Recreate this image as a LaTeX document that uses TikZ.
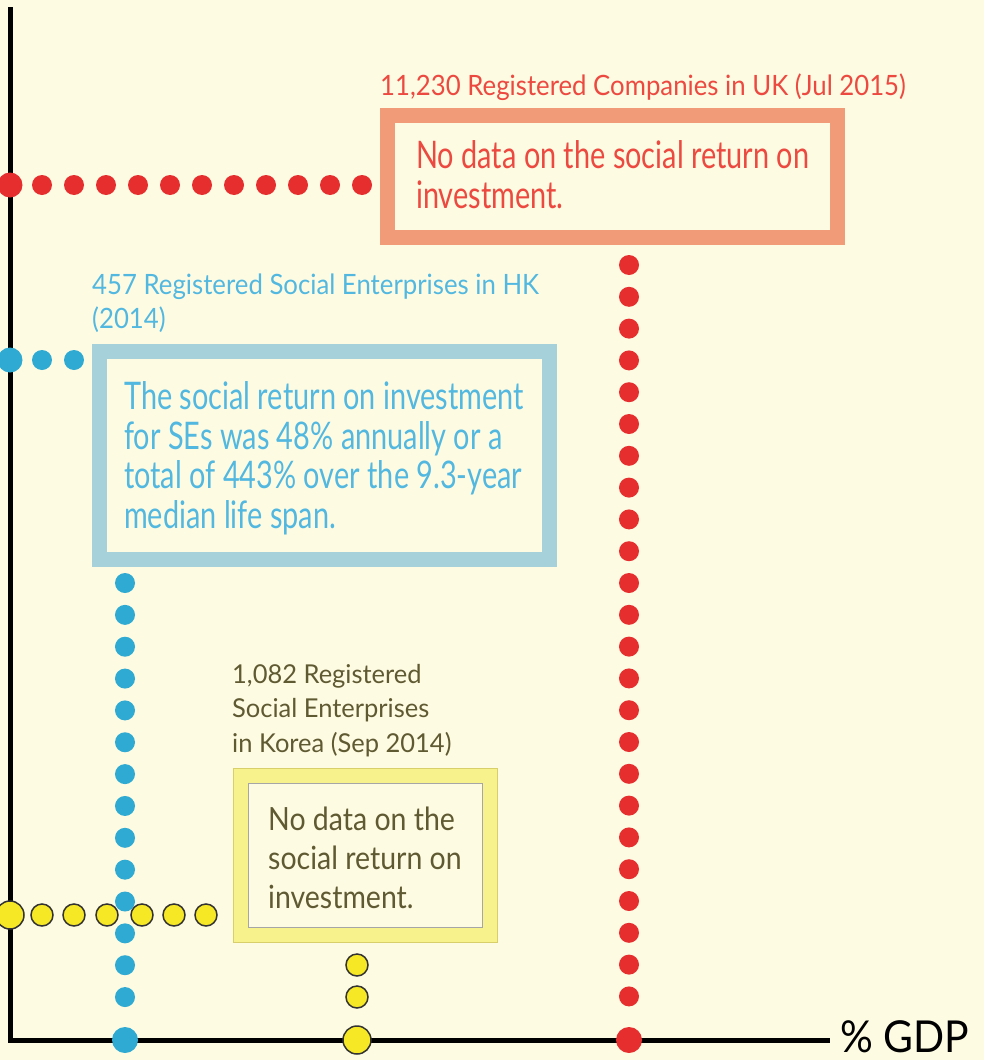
\documentclass[tikz,border=0pt]{standalone}
\usepackage{fontspec}
\setmainfont{Lato}
\newfontfamily\labelfont[FakeStretch=0.92]{Lato}
\newfontfamily\notefont[FakeStretch=0.76]{Lato}
\newfontfamily\krlabelfont[FakeStretch=0.98]{Lato}
\newfontfamily\krnotefont[FakeStretch=0.89]{Lato}
\newfontfamily\axisfont[FakeStretch=0.93]{Lato}
\usetikzlibrary{calc}

\definecolor{paper}{HTML}{FEFBE3}
\definecolor{ukred}{HTML}{E62E2F}
\definecolor{uktext}{HTML}{EC4A40}
\definecolor{ukframe}{HTML}{F29B78}
\definecolor{hkblue}{HTML}{2EAAD3}
\definecolor{hktext}{HTML}{52B8E0}
\definecolor{hkframe}{HTML}{A6D0DA}
\definecolor{kryellow}{HTML}{F6E824}
\definecolor{krframe}{HTML}{F8F28C}
\definecolor{krline}{HTML}{D9CF6A}
\definecolor{krtext}{HTML}{5F5A32}

\tikzset{
  caption/.style={anchor=base west,align=left,inner sep=0pt,
    font=\labelfont\fontsize{28}{33.5}\selectfont},
  boxtext/.style={anchor=base west,align=left,inner sep=0pt,
    font=\notefont\fontsize{38}{39.5}\selectfont},
  ydot/.style={fill=kryellow,draw=black!80,line width=1.5pt}
}

\begin{document}
\begin{tikzpicture}[x=1pt,y=-1pt]
    \fill[paper] (0,0) rectangle (984,1060);
    \useasboundingbox (0,0) rectangle (984,1060);
    % axes
    \draw[line width=5pt] (10,7) -- (10,1040) -- (830,1040);
    \node[anchor=base west,inner sep=0pt,font=\axisfont\fontsize{44}{44}\selectfont] (gdp) at (840,1052) {\% GDP};
    % UK
    \coordinate (ukaxis) at (10,185);
    \coordinate (ukbase) at (629,1040);
    \foreach \i in {0,...,10}
        \fill[ukred] ($(ukaxis)+(32+32*\i,0)$) circle (10pt);
    \foreach \i in {0,...,23}
        \fill[ukred] (629,{265+31.8*\i}) circle (10pt);
    \fill[ukred] (ukaxis) circle (12.5pt);
    \fill[ukred] (ukbase) circle (13pt);
    \draw[ukframe,line width=15pt] (387.5,115.5) rectangle (837.5,237.5);
    \node[caption,text=uktext] (uklabel) at (380,95) {11,230 Registered Companies in UK (Jul 2015)};
    \node[boxtext,text=uktext] (uknote) at (416,208) {No data on the social return on\\investment.};
    % HK
    \coordinate (hkaxis) at (10,360);
    \coordinate (hkbase) at (125,1040);
    \foreach \i in {1,2}
        \fill[hkblue] ($(hkaxis)+(32*\i,0)$) circle (10pt);
    \draw[hkframe,line width=15pt] (99.5,351.5) rectangle (549.5,559.5);
    \node[caption,text=hktext] (hklabel) at (92,328) {457 Registered Social Enterprises in HK\\(2014)};
    \node[boxtext,text=hktext] (hknote) at (124,528) {The social return on investment\\for SEs was 48\% annually or a\\total of 443\% over the 9.3-year\\median life span.};
    % Korea
    \coordinate (kraxis) at (10,915);
    \coordinate (krbase) at (357,1040);
    \fill[krframe] (233,768) rectangle (497,942);
    \draw[krline,line width=1pt] (233,768) rectangle (497,942);
    \filldraw[fill=paper,draw=black!35,line width=1pt] (248,783) rectangle (482,927);
    \node[caption,text=krtext,font=\krlabelfont\fontsize{26}{34.5}\selectfont] (krlabel) at (232,752) {1,082 Registered\\Social Enterprises\\in Korea (Sep 2014)};
    \node[boxtext,text=krtext,font=\krnotefont\fontsize{32}{39}\selectfont] (krnote) at (268,908) {No data on the\\social return on\\investment.};
    \foreach \x in {42,74,107,142,174,206}
        \filldraw[ydot] (\x,915) circle (11pt);
    \foreach \i in {0,...,13}
        \fill[hkblue] (125,{583+31.85*\i}) circle (10pt);
    \foreach \y in {965,997}
        \filldraw[ydot] (357,\y) circle (11pt);
    \fill[hkblue] (hkaxis) circle (12.5pt);
    \fill[hkblue] (hkbase) circle (13pt);
    \filldraw[ydot] (kraxis) circle (14pt);
    \filldraw[ydot] (krbase) circle (14pt);
\end{tikzpicture}
\end{document}
